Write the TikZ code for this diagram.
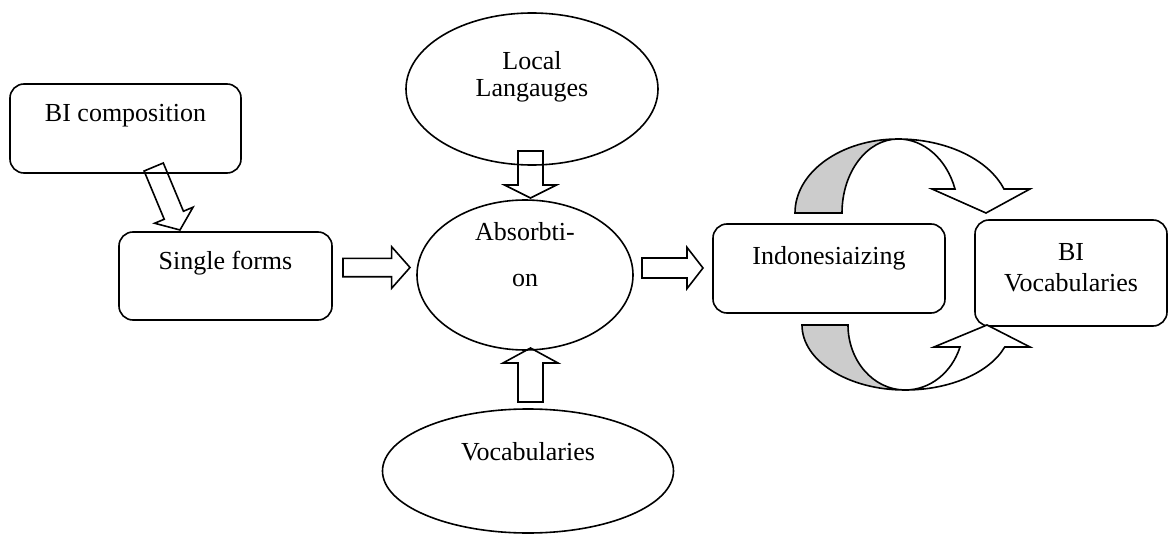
\documentclass[tikz,border=0pt]{standalone}
\usepackage{fontspec}
\setmainfont{Liberation Serif}
\usetikzlibrary{calc,shapes.geometric}
\newcommand{\fatarrow}[5]{%
  \path ($(#2)!#5!(#1)$) coordinate (hb);
  \draw ($(#1)!#3!90:(#2)$) -- ($(hb)!#3!90:(#2)$) -- ($(hb)!#4!90:(#2)$) -- (#2)
    -- ($(hb)!#4!-90:(#2)$) -- ($(hb)!#3!-90:(#2)$) -- ($(#1)!#3!-90:(#2)$) -- cycle;}
\begin{document}
\begin{tikzpicture}[x=0.5pt, y=-0.5pt, line width=0.8pt,
  every node/.style={font=\fontsize{13}{16}\selectfont, inner sep=0pt},
  rbox/.style={draw, rounded corners=7pt, align=center},
  oval/.style={draw, ellipse, align=center}]
  \useasboundingbox (0,0) rectangle (1168,535);

  \node[rbox, minimum width=115.5pt, text height=19pt, text depth=25.5pt] (comp) at (125.5,128.5) {BI composition};
  \node[rbox, minimum width=106.5pt, text height=18.5pt, text depth=25.5pt] (single) at (225.5,276) {Single forms};
  \node[oval, minimum width=126pt, minimum height=76pt, text height=13pt, text depth=5pt] (local) at (532,89) {Local\\[-2.5pt]Langauges};
  \node[oval, minimum width=108pt, minimum height=75pt, text height=14pt, text depth=3pt] (absorb) at (525,275) {Absorbti-\\[7pt]on};
  \node[oval, minimum width=145.5pt, minimum height=62pt, text height=8pt, text depth=19pt] (vocab) at (528,471) {Vocabularies};
  \node[rbox, minimum width=116pt, text height=20pt, text depth=24.5pt] (indo) at (829,268.5) {Indonesiaizing};
  \node[rbox, minimum width=96pt, text height=36pt, text depth=17pt] (bivocab) at (1071,273) {BI\\Vocabularies};

  \coordinate (comp-out) at (153.7,167);
  \coordinate (single-in) at (180,230);
  \coordinate (single-out) at (343,267.5);
  \coordinate (absorb-w) at (410,267.5);
  \coordinate (absorb-out) at (642,268);
  \coordinate (indo-in) at (703,268);
  \coordinate (local-out) at (530.5,151);
  \coordinate (absorb-n) at (530.5,198);
  \coordinate (vocab-out) at (530.5,402);
  \coordinate (absorb-s) at (530.5,348);

  \fatarrow{comp-out}{single-in}{5.2pt}{10.4pt}{8pt}
  \fatarrow{single-out}{absorb-w}{4.6pt}{10.4pt}{9.2pt}
  \fatarrow{absorb-out}{indo-in}{5pt}{10.3pt}{8pt}
  \fatarrow{local-out}{absorb-n}{6.25pt}{13pt}{6.5pt}
  \fatarrow{vocab-out}{absorb-s}{6.25pt}{13.75pt}{7.5pt}

  \draw[fill=gray!40] (795,213) arc[start angle=180, end angle=90, x radius=51.5pt, y radius=37pt]
    arc[start angle=90, end angle=180, x radius=28pt, y radius=37pt] -- cycle;
  \draw[fill=white] (898,139) arc[start angle=90, end angle=18.9, x radius=56pt, y radius=37pt]
    -- (1030,189) -- (986,213) -- (932,189) -- (955,189)
    arc[start angle=18.9, end angle=90, x radius=30pt, y radius=37pt] -- cycle;
  \draw[fill=gray!40] (802,325) arc[start angle=180, end angle=270, x radius=51.5pt, y radius=32.5pt]
    arc[start angle=270, end angle=180, x radius=28.5pt, y radius=32.5pt] -- cycle;
  \draw[fill=white] (905,390) arc[start angle=270, end angle=340.2, x radius=53pt, y radius=32.5pt]
    -- (1030,347) -- (987,325) -- (934,347) -- (960,347)
    arc[start angle=340.2, end angle=270, x radius=29pt, y radius=32.5pt] -- cycle;
\end{tikzpicture}
\end{document}
